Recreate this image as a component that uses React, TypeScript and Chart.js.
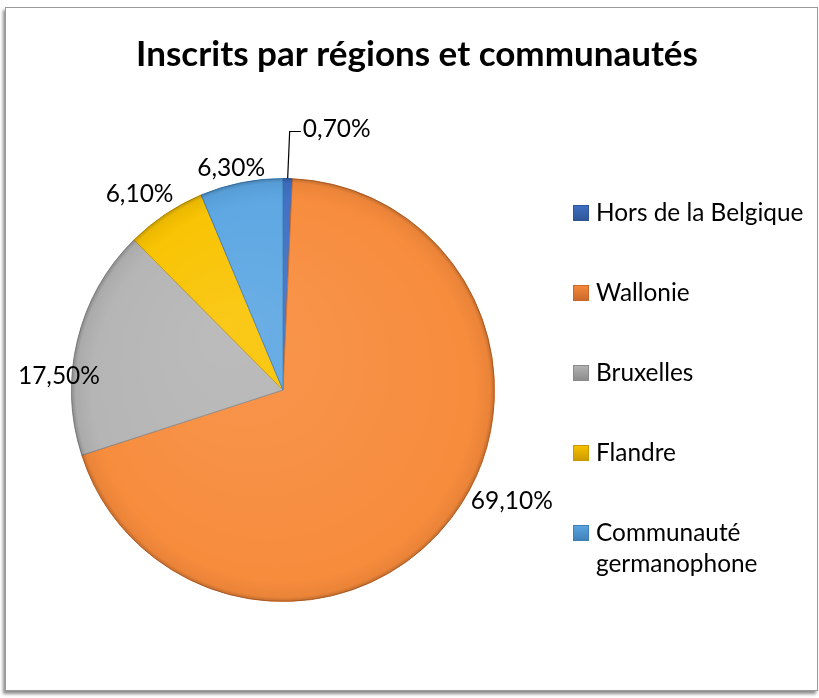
import React, { useEffect, useRef } from "react";
import { Chart, registerables } from "chart.js";

Chart.register(...registerables);

const title = "Inscrits par régions et communautés";
const categories: (string | string[])[] = [
  "Hors de la Belgique",
  "Wallonie",
  "Bruxelles",
  "Flandre",
  ["Communauté", "germanophone"],
];
const values = [0.7, 69.1, 17.5, 6.1, 6.3];
const sliceColors = ["#3F70C3", "#F78B3B", "#B4B4B4", "#F9C300", "#5BA6E2"];
const sliceEdges = ["#2F5597", "#C8682A", "#8A8A8A", "#C99A00", "#3F7FB8"];

// label placement tweaks (degrees off mid-angle, px beyond outer radius)
const labelAngleShift = [10.4, -11.3, -10, -2.5, -1.8];
const labelRadialShift = [54.5, 43, 13, 31, 16];

const FONT = "Lato, 'Open Sans', sans-serif";

const fmt = (v: number) => v.toFixed(2).replace(".", ",") + "%";

const overlayPlugin = {
  id: "overlay",
  afterDatasetsDraw(chart: any) {
    const ctx: CanvasRenderingContext2D = chart.ctx;
    const meta = chart.getDatasetMeta(0);
    const arcs = meta.data;
    if (!arcs.length) return;
    const p0 = arcs[0].getProps(["x", "y", "outerRadius"], true);
    const cx = p0.x, cy = p0.y, r = p0.outerRadius;

    // rim shading
    ctx.save();
    ctx.beginPath();
    ctx.arc(cx, cy, r, 0, Math.PI * 2);
    ctx.clip();
    const g = ctx.createRadialGradient(cx, cy, r * 0.9, cx, cy, r);
    g.addColorStop(0, "rgba(0,0,0,0)");
    g.addColorStop(0.8, "rgba(0,0,0,0.05)");
    g.addColorStop(1, "rgba(0,0,0,0.22)");
    ctx.fillStyle = g;
    ctx.fillRect(cx - r, cy - r, 2 * r, 2 * r);
    const g2 = ctx.createRadialGradient(cx - r * 0.3, cy - r * 0.3, 0, cx, cy, r);
    g2.addColorStop(0, "rgba(255,255,255,0.10)");
    g2.addColorStop(1, "rgba(255,255,255,0)");
    ctx.fillStyle = g2;
    ctx.fillRect(cx - r, cy - r, 2 * r, 2 * r);
    ctx.restore();

    // data labels
    ctx.save();
    ctx.font = `24.5px ${FONT}`;
    ctx.fillStyle = "#000";
    ctx.textBaseline = "middle";
    ctx.textAlign = "center";
    arcs.forEach((arc: any, i: number) => {
      const p = arc.getProps(["startAngle", "endAngle"], true);
      const mid = (p.startAngle + p.endAngle) / 2;
      const a = mid + (labelAngleShift[i] * Math.PI) / 180;
      const d = r + labelRadialShift[i];
      const tx = cx + Math.cos(a) * d;
      const ty = cy + Math.sin(a) * d;
      const txt = fmt(values[i]);
      ctx.fillText(txt, tx, ty);
      if (i === 0) {
        const w = ctx.measureText(txt).width;
        const ex = cx + Math.cos(mid) * r;
        const ey = cy + Math.sin(mid) * r;
        ctx.beginPath();
        ctx.strokeStyle = "#000";
        ctx.lineWidth = 1.2;
        ctx.moveTo(ex, ey);
        ctx.lineTo(ex + 2, ty + 2);
        ctx.lineTo(tx - w / 2 - 2, ty + 2);
        ctx.stroke();
      }
    });
    ctx.restore();
  },
  afterDraw(chart: any) {
    const ctx: CanvasRenderingContext2D = chart.ctx;
    ctx.save();
    // title
    ctx.font = `bold 35px ${FONT}`;
    ctx.fillStyle = "#000";
    ctx.textAlign = "center";
    ctx.textBaseline = "middle";
    ctx.fillText(title, 417, 55);

    // legend
    const sx = 573, tx = 596, y0 = 213, step = 80, lineH = 31, sq = 16;
    ctx.font = `24.4px ${FONT}`;
    ctx.textAlign = "left";
    categories.forEach((c, i) => {
      const lines = Array.isArray(c) ? c : [c];
      const yc = y0 + i * step;
      const sy = yc - sq / 2;
      const grad = ctx.createLinearGradient(sx, sy, sx, sy + sq);
      grad.addColorStop(0, sliceColors[i]);
      grad.addColorStop(1, sliceEdges[i]);
      ctx.fillStyle = grad;
      ctx.fillRect(sx, sy, sq, sq);
      ctx.strokeStyle = sliceEdges[i];
      ctx.lineWidth = 1;
      ctx.strokeRect(sx + 0.5, sy + 0.5, sq - 1, sq - 1);
      ctx.fillStyle = "#000";
      lines.forEach((ln, k) => {
        ctx.fillText(ln, tx, yc + k * lineH);
      });
    });
    ctx.restore();
  },
};

export default function App() {
  const ref = useRef<HTMLCanvasElement | null>(null);
  useEffect(() => {
    if (!ref.current) return;
    const chart = new Chart(ref.current, {
      type: "pie",
      data: {
        labels: categories as any,
        datasets: [
          {
            data: values,
            backgroundColor: sliceColors,
            borderColor: sliceEdges,
            borderWidth: 1,
          },
        ],
      },
      options: {
        animation: false,
        responsive: false,
        layout: { padding: { left: 71, right: 324, top: 178, bottom: 96 } },
        plugins: {
          legend: { display: false },
          title: { display: false },
          tooltip: { enabled: false },
        },
      },
      plugins: [overlayPlugin],
    });
    return () => chart.destroy();
  }, []);
  return (
    <div style={{ position: "absolute", left: 0, top: 0, width: 819, height: 698, background: "#fff" }}>
      <div
        style={{
          position: "absolute",
          left: 5,
          top: 7,
          width: 811,
          height: 682,
          border: "1px solid #9a9a9a",
          boxShadow: "-2px 3px 3px rgba(0,0,0,0.45)",
          background: "#fff",
        }}
      />
      <canvas ref={ref} width={819} height={698} style={{ position: "absolute", left: 0, top: 0, display: "block" }} />
    </div>
  );
}
